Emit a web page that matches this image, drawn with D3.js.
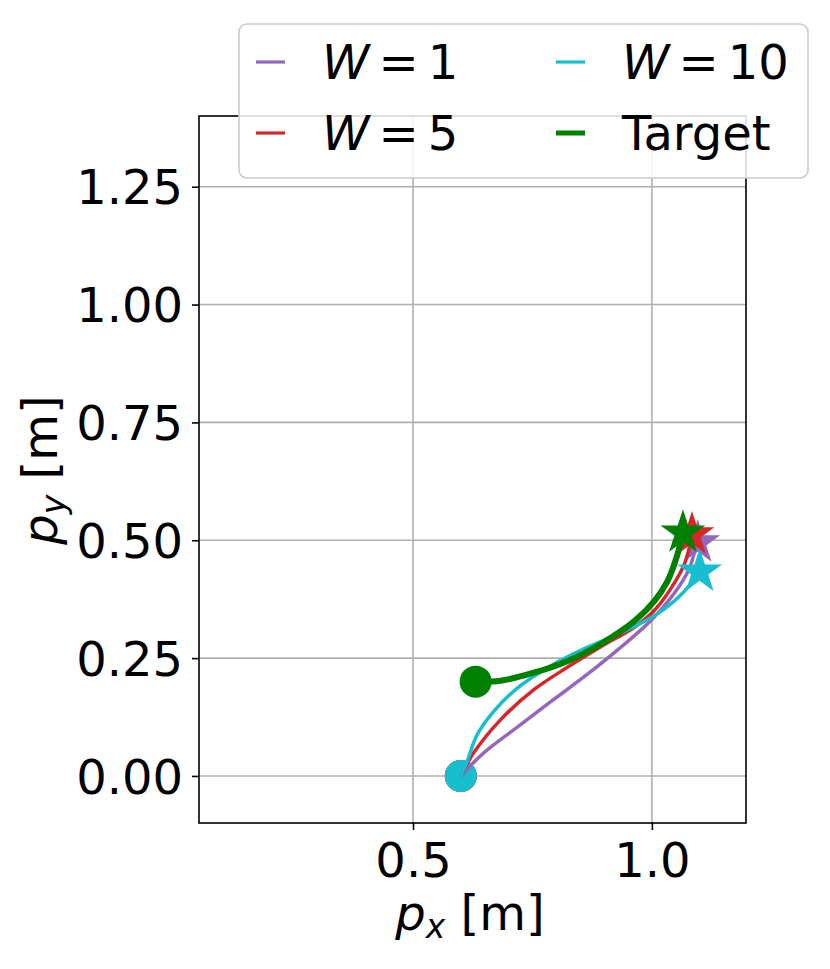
<!DOCTYPE html>
<html>
<head>
<meta charset="utf-8">
<script src="https://cdn.jsdelivr.net/npm/d3@7/dist/d3.min.js"></script>
<style>
  body { margin: 0; background: #fff; }
  text { font-family: "DejaVu Sans", sans-serif; }
</style>
</head>
<body>
<script>
// trajectories, [px, py] in metres
var trajW1 = [[0.600, 0.000], [0.648, 0.049], [0.719, 0.104], [0.789, 0.158], [0.859, 0.211],
  [0.929, 0.268], [0.999, 0.331], [1.048, 0.389], [1.077, 0.437], [1.088, 0.470], [1.096, 0.495]];
var trajW5 = [[0.600, 0.000], [0.627, 0.049], [0.683, 0.119], [0.753, 0.183], [0.824, 0.231],
  [0.893, 0.274], [0.964, 0.316], [1.006, 0.352], [1.042, 0.401], [1.069, 0.452], [1.084, 0.512]];
var trajW10 = [[0.600, 0.000], [0.613, 0.030], [0.634, 0.087], [0.669, 0.137], [0.719, 0.187],
  [0.789, 0.234], [0.859, 0.270], [0.929, 0.301], [0.999, 0.336], [1.048, 0.372], [1.084, 0.410], [1.100, 0.433]];
var trajTarget = [[0.631, 0.200], [0.683, 0.202], [0.753, 0.219], [0.824, 0.244], [0.893, 0.280],
  [0.964, 0.329], [1.006, 0.372], [1.033, 0.414], [1.052, 0.465], [1.065, 0.516]];

var seriesNames = ["W1", "W5", "W10", "Target"];
var legendValues = ["1", "5", "10", null];
var colors = { W1: "#9467bd", W5: "#d62728", W10: "#17becf", Target: "green" };
var xTicks = [0.5, 1.0];
var yTicks = [0.00, 0.25, 0.50, 0.75, 1.00, 1.25];

var width = 830, height = 969;
var plotLeft = 199, plotRight = 746, plotTop = 116, plotBottom = 823;
var fontSize = 48;

var svg = d3.select("body").append("svg")
  .attr("width", width)
  .attr("height", height);

var x = d3.scaleLinear().domain([0.052, 1.197]).range([plotLeft, plotRight]);
var y = d3.scaleLinear().domain([-0.0998, 1.40]).range([plotBottom, plotTop]);

// grid
svg.append("g").selectAll("line").data(xTicks).enter().append("line")
  .attr("x1", function(d) { return x(d); }).attr("x2", function(d) { return x(d); })
  .attr("y1", plotTop).attr("y2", plotBottom)
  .attr("stroke", "#b0b0b0").attr("stroke-width", 1.6);
svg.append("g").selectAll("line").data(yTicks).enter().append("line")
  .attr("x1", plotLeft).attr("x2", plotRight)
  .attr("y1", function(d) { return y(d); }).attr("y2", function(d) { return y(d); })
  .attr("stroke", "#b0b0b0").attr("stroke-width", 1.6);

// axes
var xAxis = d3.axisBottom(x).tickValues(xTicks).tickFormat(d3.format(".1f")).tickSize(7).tickPadding(11);
var yAxis = d3.axisLeft(y).tickValues(yTicks).tickFormat(d3.format(".2f")).tickSize(7).tickPadding(9);
var gx = svg.append("g").attr("transform", "translate(0," + plotBottom + ")").call(xAxis);
var gy = svg.append("g").attr("transform", "translate(" + plotLeft + ",0)").call(yAxis);
[gx, gy].forEach(function(g) {
  g.select(".domain").remove();
  g.selectAll("line").attr("stroke", "#000").attr("stroke-width", 1.6);
  g.selectAll("text").attr("font-size", fontSize).attr("fill", "#000")
    .style("font-family", "'DejaVu Sans', sans-serif");
});
gy.selectAll("text").attr("dy", "0.36em");
gx.selectAll("text").attr("dy", "0.76em");

// frame
svg.append("rect")
  .attr("x", plotLeft).attr("y", plotTop)
  .attr("width", plotRight - plotLeft).attr("height", plotBottom - plotTop)
  .attr("fill", "none").attr("stroke", "#000").attr("stroke-width", 1.6);

var line = d3.line()
  .x(function(d) { return x(d[0]); })
  .y(function(d) { return y(d[1]); })
  .curve(d3.curveCatmullRom);

var data = { W1: trajW1, W5: trajW5, W10: trajW10, Target: trajTarget };

function star(r) {
  return d3.symbol().type(d3.symbolStar).size(Math.PI * r * r * 0.55)();
}

// start circles
seriesNames.forEach(function(k) {
  var p = data[k][0];
  svg.append("circle")
    .attr("cx", x(p[0])).attr("cy", y(p[1])).attr("r", 16)
    .attr("fill", colors[k]);
});

// lines and end stars
seriesNames.forEach(function(k) {
  svg.append("path")
    .attr("d", line(data[k]))
    .attr("fill", "none")
    .attr("stroke", colors[k])
    .attr("stroke-width", k == "Target" ? 6 : 3.5)
    .attr("stroke-linecap", "butt");
  var p = data[k][data[k].length - 1];
  svg.append("path")
    .attr("d", star(19))
    .attr("transform", "translate(" + x(p[0]) + "," + y(p[1]) + ")")
    .attr("fill", colors[k]);
});

// axis labels
var xl = svg.append("text")
  .attr("x", 470).attr("y", 930)
  .attr("text-anchor", "middle").attr("font-size", fontSize);
xl.append("tspan").attr("font-style", "italic").text("p");
xl.append("tspan").attr("font-style", "italic").attr("font-size", 33).attr("dy", 8).text("x");
xl.append("tspan").attr("dy", -8).text(" [m]");

var yl = svg.append("text")
  .attr("transform", "translate(57,470) rotate(-90)")
  .attr("text-anchor", "middle").attr("font-size", fontSize);
yl.append("tspan").attr("font-style", "italic").text("p");
yl.append("tspan").attr("font-style", "italic").attr("font-size", 33).attr("dy", 8).text("y");
yl.append("tspan").attr("dy", -8).text(" [m]");

// legend
var lg = svg.append("g");
lg.append("rect")
  .attr("x", 239).attr("y", 24).attr("width", 569).attr("height", 154)
  .attr("rx", 8).attr("ry", 8)
  .attr("fill", "rgba(255,255,255,0.85)")
  .attr("stroke", "#cccccc").attr("stroke-width", 1.6);

var legendPos = [[256, 62], [256, 133], [556, 62], [556, 133]];
seriesNames.forEach(function(k, i) {
  var px = legendPos[i][0], py = legendPos[i][1];
  lg.append("line")
    .attr("x1", px).attr("x2", px + 29)
    .attr("y1", py).attr("y2", py)
    .attr("stroke", colors[k])
    .attr("stroke-width", k == "Target" ? 5 : 3.2);
  var t = lg.append("text")
    .attr("x", px + 66).attr("y", py).attr("dy", "0.36em")
    .attr("font-size", fontSize);
  if (legendValues[i] != null) {
    t.append("tspan").attr("font-style", "italic").text("W");
    t.append("tspan").attr("dx", 9).text("=");
    t.append("tspan").attr("dx", 9).text(legendValues[i]);
  } else {
    t.text("Target");
  }
});
</script>
</body>
</html>
